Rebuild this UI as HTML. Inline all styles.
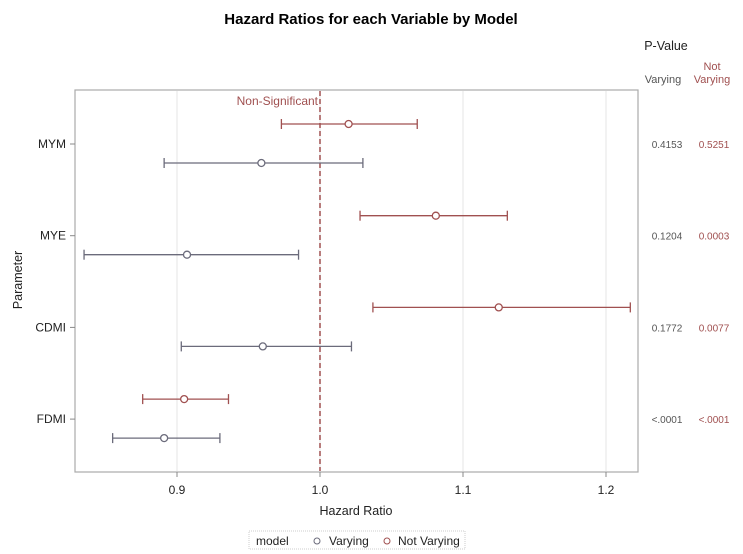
<!DOCTYPE html>
<html><head><meta charset="utf-8"><style>body{margin:0;background:#fff}svg{display:block;font-family:"Liberation Sans",sans-serif}</style></head>
<body>
<svg id="c" width="743" height="554" xmlns="http://www.w3.org/2000/svg">
<text x="371" y="24" text-anchor="middle" font-size="15" font-weight="bold" fill="#000">Hazard Ratios for each Variable by Model</text>
<text x="666" y="50" text-anchor="middle" font-size="12.5" fill="#222">P-Value</text>
<text x="663" y="83" text-anchor="middle" font-size="11" fill="#555">Varying</text>
<text x="712" y="70" text-anchor="middle" font-size="11" fill="#a05050">Not</text>
<text x="712" y="83" text-anchor="middle" font-size="11" fill="#a05050">Varying</text>
<rect x="75" y="90" width="563" height="382" fill="none" stroke="#aaa" stroke-width="1.2"/>
<g id="grid"></g><g id="marks"></g>
<text x="22" y="280" text-anchor="middle" font-size="12.5" fill="#222" transform="rotate(-90 22 280)">Parameter</text>
<text x="356" y="515" text-anchor="middle" font-size="12.5" fill="#222">Hazard Ratio</text>
<g>
<rect x="249" y="531" width="216" height="18" fill="none" stroke="#ccc" stroke-dasharray="1,1"/>
<text x="256" y="545" font-size="12" fill="#222">model</text>
<circle cx="317" cy="541" r="3" fill="none" stroke="#6b6b7b"/>
<text x="329" y="545" font-size="12" fill="#222">Varying</text>
<circle cx="387" cy="541" r="3" fill="none" stroke="#a05050"/>
<text x="398" y="545" font-size="12" fill="#222">Not Varying</text>
</g>
</svg>
<script>
const categories=["MYM","MYE","CDMI","FDMI"];
const varyEst=[0.959,0.907,0.960,0.891];
const varyLo=[0.891,0.835,0.903,0.855];
const varyHi=[1.030,0.985,1.022,0.930];
const nvEst=[1.020,1.081,1.125,0.905];
const nvLo=[0.973,1.028,1.037,0.876];
const nvHi=[1.068,1.131,1.217,0.936];
const pVary=["0.4153","0.1204","0.1772","<.0001"];
const pNv=["0.5251","0.0003","0.0077","<.0001"];
const xTicks=[0.9,1.0,1.1,1.2];
const xTickLabels=["0.9","1.0","1.1","1.2"];
const refValue=1.0;
const NS="http://www.w3.org/2000/svg";
const xs=v=>177+(v-0.9)*1430;
const ys=i=>144+i*91.7;
const svg=document.getElementById('c'),g=document.getElementById('marks'),gr=document.getElementById('grid');
function mk(p,tag,a,t){const e=document.createElementNS(NS,tag);for(const k in a)e.setAttribute(k,a[k]);if(t!=null)e.textContent=t;p.appendChild(e);return e;}
xTicks.forEach((v,i)=>{
 let l=mk(gr,'line',{x1:xs(v),x2:xs(v),y1:91,y2:471,stroke:'#e4e4e4'});
 
 
 let t=mk(svg,'line',{x1:xs(v),x2:xs(v),y1:472,y2:477,stroke:'#888'});
 
 
 let tx=mk(svg,'text',{x:xs(v),y:494,'text-anchor':'middle','font-size':12,fill:'#222'},xTickLabels[i]);
 
 
});
let ref=mk(g,'line',{x1:xs(refValue),x2:xs(refValue),y1:91,y2:471,stroke:'#a05050','stroke-width':1.5,'stroke-dasharray':'5,3'});


let rl=mk(g,'text',{x:xs(refValue)-2,y:105,'text-anchor':'end','font-size':12,fill:'#a05050'},'Non-Significant');


function series(lo,est,hi,off,col,nm,i){
 const y=ys(i)+off;
 let ln=mk(g,'line',{x1:xs(lo[i]),x2:xs(hi[i]),y1:y,y2:y,stroke:col,'stroke-width':1.3});
 
 
 [lo[i],hi[i]].forEach(v=>{let c=mk(g,'line',{x1:xs(v),x2:xs(v),y1:y-5,y2:y+5,stroke:col,'stroke-width':1.3});
  
  });
 let p=mk(g,'circle',{cx:xs(est[i]),cy:y,r:3.5,fill:'#fff',stroke:col,'stroke-width':1.3});
 
 
}
categories.forEach((c,i)=>{
 const y=ys(i);
 let t=mk(svg,'line',{x1:70,x2:75,y1:y,y2:y,stroke:'#888'});
 
 
 let lb=mk(svg,'text',{x:66,y:y+4,'text-anchor':'end','font-size':12,fill:'#222'},c);
 
 
 series(nvLo,nvEst,nvHi,-20,'#a05050','not-varying',i);
 series(varyLo,varyEst,varyHi,19,'#6b6b7b','varying',i);
 let a=mk(svg,'text',{x:667,y:y+4,'text-anchor':'middle','font-size':10,fill:'#555'},pVary[i]);
 
 
 let b=mk(svg,'text',{x:714,y:y+4,'text-anchor':'middle','font-size':10,fill:'#a05050'},pNv[i]);
 
 
});
</script>
</body></html>
